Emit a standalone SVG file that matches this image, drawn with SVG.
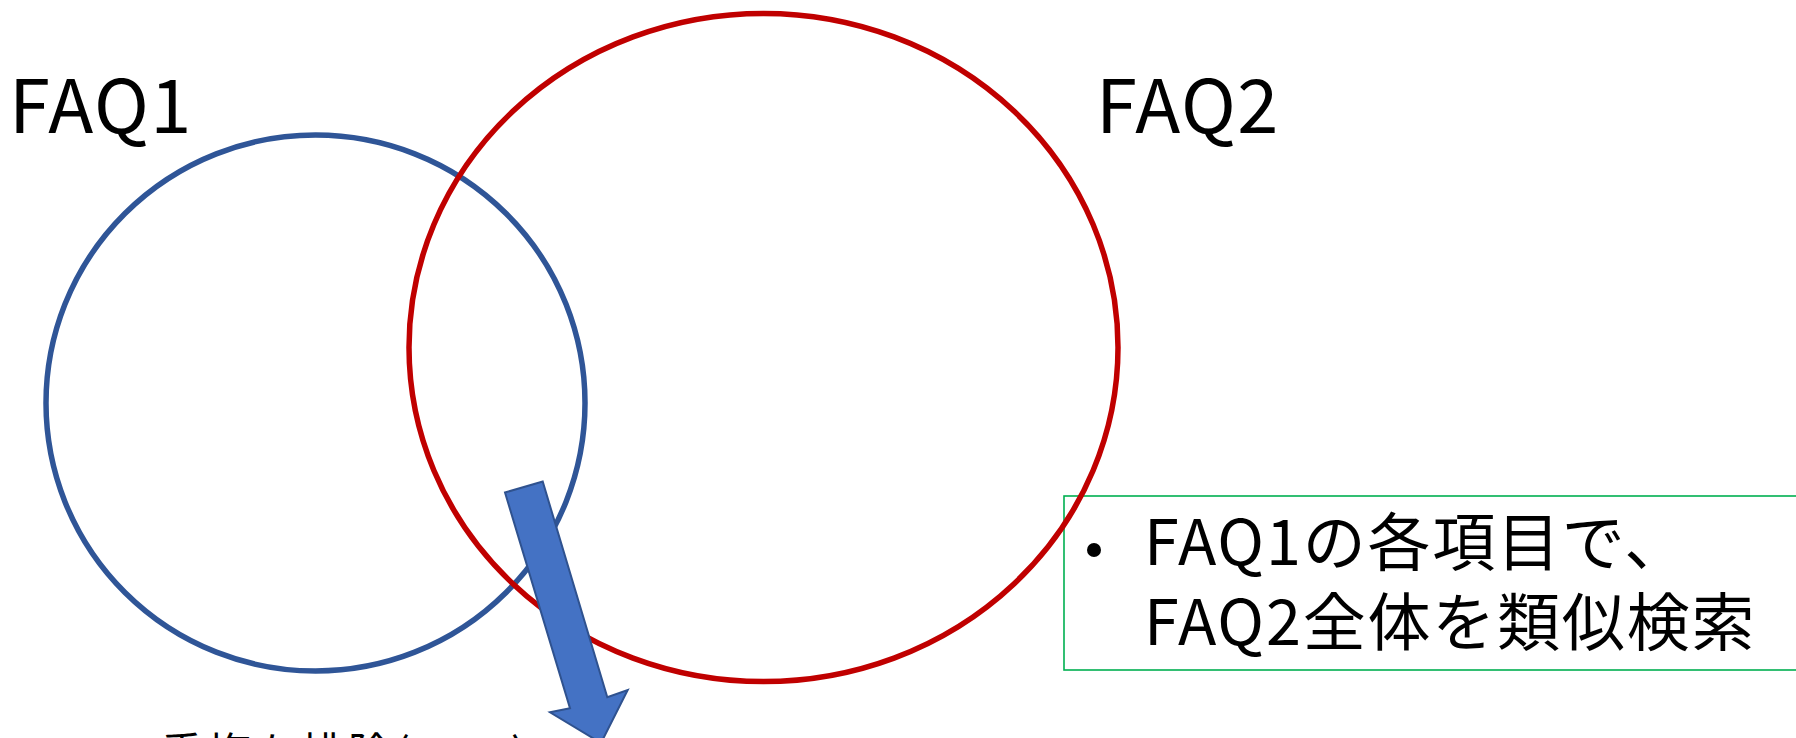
<svg xmlns="http://www.w3.org/2000/svg" width="1796" height="738" viewBox="0 0 1796 738">
<style>
.lbl{font-family:"Noto Sans CJK JP","Liberation Sans",sans-serif;fill:#000}
.big{font-size:74px;letter-spacing:1.5px}
.box{font-size:63px;letter-spacing:1.8px}
.bot{font-size:44px;letter-spacing:3px}
</style>
<rect width="1796" height="738" fill="#fff"/>
<g id="faq2-note">
<rect x="1064" y="496" width="740" height="174" fill="none" stroke="#00B050" stroke-width="1.6"/>
<circle cx="1094" cy="550" r="7" fill="#000"/>
<text class="lbl box" x="1144" y="565">FAQ1の各項目で、</text>
<text class="lbl box" x="1144" y="645">FAQ2全体を類似検索</text>
</g>
<g id="faq1">
<ellipse cx="315.5" cy="403" rx="269.5" ry="268" fill="none" stroke="#2F5597" stroke-width="5.5"/>
<text class="lbl big" x="9" y="133">FAQ1</text>
</g>
<g id="faq2">
<ellipse cx="763.5" cy="347.5" rx="354.5" ry="334" fill="none" stroke="#C00000" stroke-width="5.5"/>
<text class="lbl big" x="1096" y="133">FAQ2</text>
</g>
<g id="connectors">
<path d="M505,492.5 L542.7,481.5 L607.3,697.3 L627.7,690 L601,743 L550,712.3 L570,708.3 Z" fill="#4472C4" stroke="#2F528F" stroke-width="2" stroke-linejoin="miter"/>
</g>
<g id="result">
<text class="lbl bot" x="160" y="770">重複を排除(1 : n)</text>
</g>
</svg>
